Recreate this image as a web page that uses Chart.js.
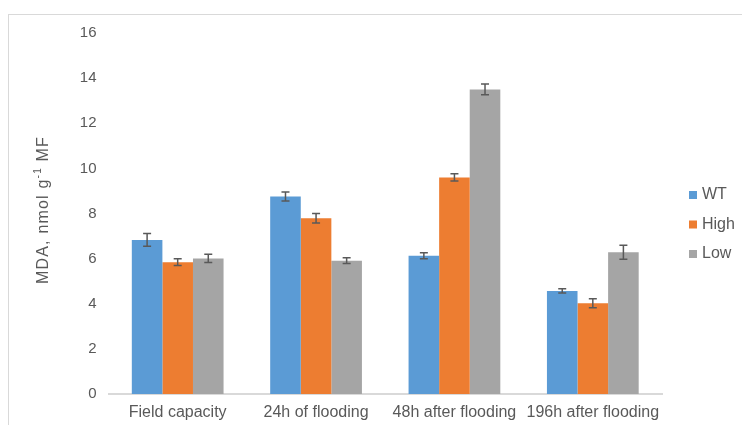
<!DOCTYPE html>
<html>
<head>
<meta charset="utf-8">
<script src="https://cdn.jsdelivr.net/npm/chart.js@4"></script>
<style>
    html, body { margin: 0; padding: 0; background: #fff; }
    #wrap { position: relative; width: 742px; height: 425px; }
</style>
</head>
<body>
<div id="wrap"><canvas id="mdaChart" width="742" height="425"></canvas></div>
<script>
// Data
const categories = ['Field capacity', '24h of flooding', '48h after flooding', '196h after flooding'];
const seriesNames = ['WT', 'High', 'Low'];
const wtValues = [6.83, 8.75, 6.13, 4.57];
const highValues = [5.84, 7.79, 9.60, 4.02];
const lowValues = [6.01, 5.91, 13.50, 6.28];
const wtErrors = [0.28, 0.20, 0.13, 0.09];
const highErrors = [0.15, 0.21, 0.16, 0.20];
const lowErrors = [0.18, 0.13, 0.24, 0.31];
const yTicks = [0, 2, 4, 6, 8, 10, 12, 14, 16];

const colors = ['#5B9BD5', '#ED7D31', '#A5A5A5'];
const textColor = '#595959';
const fontFamily = '"Liberation Sans", Arial, sans-serif';

// Frame around the chart (only top and left visible in the original crop)
const framePlugin = {
    id: 'frame',
    beforeDraw(chart) {
        const ctx = chart.ctx;
        ctx.save();
        ctx.strokeStyle = '#d9d9d9';
        ctx.lineWidth = 1;
        ctx.strokeRect(8.5, 14.5, 900, 600);
        ctx.restore();
    }
};

// Error bars drawn from the bar elements and the y scale
const errorBarPlugin = {
    id: 'errorBars',
    afterDatasetsDraw(chart) {
        const ctx = chart.ctx;
        const y = chart.scales.y;
        ctx.save();
        ctx.strokeStyle = '#595959';
        ctx.lineWidth = 1.5;
        chart.data.datasets.forEach((ds, i) => {
            const meta = chart.getDatasetMeta(i);
            meta.data.forEach((bar, j) => {
                const v = ds.data[j];
                const e = ds.errors[j];
                const top = y.getPixelForValue(v + e);
                const bottom = y.getPixelForValue(v - e);
                ctx.beginPath();
                ctx.moveTo(bar.x, top);
                ctx.lineTo(bar.x, bottom);
                ctx.moveTo(bar.x - 4, top);
                ctx.lineTo(bar.x + 4, top);
                ctx.moveTo(bar.x - 4, bottom);
                ctx.lineTo(bar.x + 4, bottom);
                ctx.stroke();
            });
        });
        ctx.restore();
    }
};

// Rotated y axis title with superscript
const yTitlePlugin = {
    id: 'yTitle',
    afterDraw(chart) {
        const ctx = chart.ctx;
        const parts = [
            { text: 'MDA, nmol g', size: 16, rise: 0 },
            { text: '-1', size: 10, rise: 6 },
            { text: ' MF', size: 16, rise: 0 }
        ];
        ctx.save();
        ctx.letterSpacing = '1.2px';
        let total = 0;
        parts.forEach(p => {
            ctx.font = p.size + 'px ' + fontFamily;
            p.w = ctx.measureText(p.text).width;
            total += p.w;
        });
        ctx.translate(44, 210);
        ctx.rotate(-Math.PI / 2);
        ctx.fillStyle = textColor;
        ctx.textBaseline = 'middle';
        ctx.textAlign = 'left';
        let x = -total / 2;
        parts.forEach(p => {
            ctx.font = p.size + 'px ' + fontFamily;
            ctx.fillText(p.text, x, -p.rise);
            x += p.w;
        });
        ctx.restore();
    }
};

// Legend at the right
const legendPlugin = {
    id: 'sideLegend',
    afterDraw(chart) {
        const ctx = chart.ctx;
        ctx.save();
        ctx.font = '16px ' + fontFamily;
        ctx.textBaseline = 'middle';
        chart.data.datasets.forEach((ds, i) => {
            const cy = 195 + i * 29.5;
            ctx.fillStyle = ds.backgroundColor;
            ctx.fillRect(689, cy - 4, 8, 8);
            ctx.fillStyle = textColor;
            ctx.fillText(ds.label, 702, cy);
        });
        ctx.restore();
    }
};

const ctx = document.getElementById('mdaChart').getContext('2d');
const mdaChart = new Chart(ctx, {
    type: 'bar',
    data: {
        labels: categories,
        datasets: [
            { label: seriesNames[0], data: wtValues, errors: wtErrors, backgroundColor: colors[0] },
            { label: seriesNames[1], data: highValues, errors: highErrors, backgroundColor: colors[1] },
            { label: seriesNames[2], data: lowValues, errors: lowErrors, backgroundColor: colors[2] }
        ]
    },
    options: {
        responsive: false,
        animation: false,
        devicePixelRatio: 1,
        categoryPercentage: 0.663,
        barPercentage: 1.0,
        layout: { padding: { top: 33, right: 80, left: 0, bottom: 0 } },
        plugins: {
            legend: { display: false },
            tooltip: { enabled: false }
        },
        scales: {
            x: {
                grid: { display: false, drawTicks: false },
                border: { display: true, color: '#d9d9d9', width: 2 },
                ticks: { color: textColor, font: { size: 16, family: fontFamily }, padding: 9, maxRotation: 0, autoSkip: false },
                afterFit(scale) { scale.height = 31; }
            },
            y: {
                min: 0,
                max: 16,
                grid: { display: false, drawTicks: false },
                border: { display: false },
                afterBuildTicks(scale) { scale.ticks = yTicks.map(v => ({ value: v })); },
                ticks: { color: textColor, font: { size: 15, family: fontFamily }, padding: 12 },
                afterFit(scale) { scale.width = 108.5; }
            }
        }
    },
    plugins: [framePlugin, errorBarPlugin, yTitlePlugin, legendPlugin]
});
</script>
</body>
</html>
